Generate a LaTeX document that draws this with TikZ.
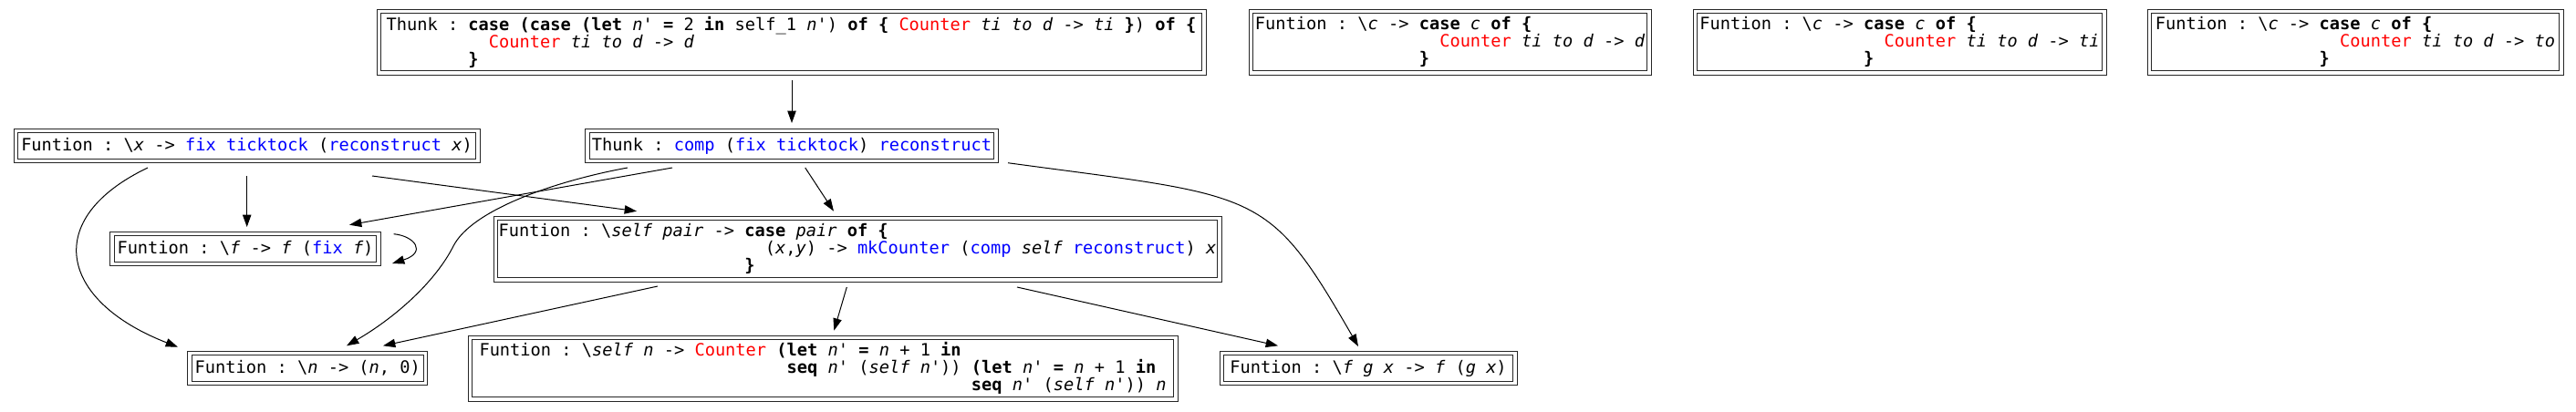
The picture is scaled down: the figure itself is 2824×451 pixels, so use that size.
\documentclass[tikz,border=0pt]{standalone}
\usepackage{fontspec}
\setmonofont{DejaVu Sans Mono}[BoldFont={DejaVu Sans Mono Bold},ItalicFont={DejaVu Sans Mono Oblique},BoldItalicFont={DejaVu Sans Mono Bold Oblique},WordSpace={1,0,0}]
\usetikzlibrary{arrows.meta,calc}
\newcommand{\kw}[1]{{\bfseries #1}}
\newcommand{\vb}[1]{{\itshape #1}}
\newcommand{\ctor}[1]{\textcolor{red}{#1}}
\newcommand{\fnc}[1]{\textcolor{blue}{#1}}
\newcommand{\ind}[1]{\setbox0=\hbox{0}\hspace*{#1\wd0}}
\newcommand{\bsl}{\textbackslash}
\begin{document}
\begin{tikzpicture}[x=0.75pt,y=0.75pt,
  gvbox/.style={draw=black!85,line width=0.75pt,double=white,double distance=2.5pt,
    inner sep=0pt,align=left,minimum height=24.5pt,
    font=\ttfamily\fontsize{14pt}{14.25pt}\selectfont},
  tall/.style={minimum height=50.75pt},
  conn/.style={draw=black,line width=0.75pt,-{Triangle[length=10pt,width=7pt]}}]
\useasboundingbox (0,0) rectangle (2824,-451);

% row 1
\node[gvbox,tall,minimum width=678.5pt] (T1) at (867.5,-46)
 {Thunk : \kw{case} \kw{(case} \kw{(let} \vb{n'} \kw{=} 2 \kw{in} self\_1 \vb{n'}) \kw{of} \kw{\{} \ctor{Counter} \vb{ti} \vb{to} \vb{d} -> \vb{ti} \kw{\}}) \kw{of} \kw{\{}\\
  \ind{10}\ctor{Counter} \vb{ti} \vb{to} \vb{d} -> \vb{d}\\
  \ind{8}\kw{\}}};
\node[gvbox,tall,minimum width=327.5pt] (C1) at (1589.5,-46)
 {Funtion : \bsl\vb{c} -> \kw{case} \vb{c} \kw{of} \kw{\{}\\
  \ind{18}\ctor{Counter} \vb{ti} \vb{to} \vb{d} -> \vb{d}\\
  \ind{16}\kw{\}}};
\node[gvbox,tall,minimum width=336.5pt] (C2) at (2082.5,-46)
 {Funtion : \bsl\vb{c} -> \kw{case} \vb{c} \kw{of} \kw{\{}\\
  \ind{18}\ctor{Counter} \vb{ti} \vb{to} \vb{d} -> \vb{ti}\\
  \ind{16}\kw{\}}};
\node[gvbox,tall,minimum width=338.75pt] (C3) at (2582,-46)
 {Funtion : \bsl\vb{c} -> \kw{case} \vb{c} \kw{of} \kw{\{}\\
  \ind{18}\ctor{Counter} \vb{ti} \vb{to} \vb{d} -> \vb{to}\\
  \ind{16}\kw{\}}};

% row 2
\node[gvbox,minimum width=380pt] (X) at (270.5,-160)
 {Funtion : \bsl\vb{x} -> \fnc{fix} \fnc{ticktock} (\fnc{reconstruct} \vb{x})};
\node[gvbox,minimum width=336pt] (CP) at (868,-160)
 {Thunk : \fnc{comp} (\fnc{fix} \fnc{ticktock}) \fnc{reconstruct}};

% row 3
\node[gvbox,minimum width=219.2pt] (FF) at (269,-273)
 {Funtion : \bsl\vb{f} -> \vb{f} (\fnc{fix} \vb{f})};
\node[gvbox,tall,minimum width=595.25pt] (SP) at (940,-273)
 {Funtion : \bsl\vb{self} \vb{pair} -> \kw{case} \vb{pair} \kw{of} \kw{\{}\\
  \ind{26}(\vb{x},\vb{y}) -> \fnc{mkCounter} (\fnc{comp} \vb{self} \fnc{reconstruct}) \vb{x}\\
  \ind{24}\kw{\}}};

% row 4
\node[gvbox,minimum width=194.2pt] (N) at (337.3,-404)
 {Funtion : \bsl\vb{n} -> (\vb{n}, 0)};
\node[gvbox,tall,minimum width=580.25pt] (SN) at (902,-404)
 {Funtion : \bsl\vb{self} \vb{n} -> \ctor{Counter} \kw{(let} \vb{n'} \kw{=} \vb{n} + 1 \kw{in}\\
  \ind{30}\kw{seq} \vb{n'} (\vb{self} \vb{n'})) \kw{(let} \vb{n'} \kw{=} \vb{n} + 1 \kw{in}\\
  \ind{48}\kw{seq} \vb{n'} (\vb{self} \vb{n'})) \vb{n}};
\node[gvbox,minimum width=241.25pt] (FGX) at (1500,-404)
 {Funtion : \bsl\vb{f} \vb{g} \vb{x} -> \vb{f} (\vb{g} \vb{x})};

% connectors
\draw[conn] ($(T1)+(0.5,-42)$) -- ($(CP)+(0,25)$);
\draw[conn] ($(X)+(0.2,-33)$) -- ($(FF)+(1.7,24)$);
\draw[conn] ($(X)+(137.5,-33)$) -- ($(SP)+(-242,41.3)$);
\draw[conn] ($(X)+(-108.5,-24)$) .. controls (45,-240) and (65,-330) .. ($(N)+(-142.3,23.3)$);
\draw[conn] ($(CP)+(-131,-24)$) -- ($(FF)+(114,26.3)$);
\draw[conn] ($(CP)+(-180,-24)$) .. controls (609.6,-198.4) and (517.3,-230) .. (497,-270)
  .. controls (476.8,-310) and (432.2,-349) .. ($(N)+(42.7,24.7)$);
\draw[conn] ($(CP)+(14.7,-24)$) -- ($(SP)+(-26,41.3)$);
\draw[conn] ($(CP)+(237,-18.7)$) .. controls (1382,-216.2) and (1389,-206) .. ($(FGX)+(-11,24)$);
\draw[conn] ($(SP)+(-219,-41)$) -- ($(N)+(82.7,24.7)$);
\draw[conn] ($(SP)+(-11.7,-42)$) -- ($(SN)+(12.3,41.3)$);
\draw[conn] ($(SP)+(175,-42)$) -- ($(FGX)+(-99,24.7)$);
\draw[conn] ($(FF)+(162.7,16.3)$) .. controls (455,-259) and (468,-277) .. ($(FF)+(161,-16)$);
\end{tikzpicture}
\end{document}
